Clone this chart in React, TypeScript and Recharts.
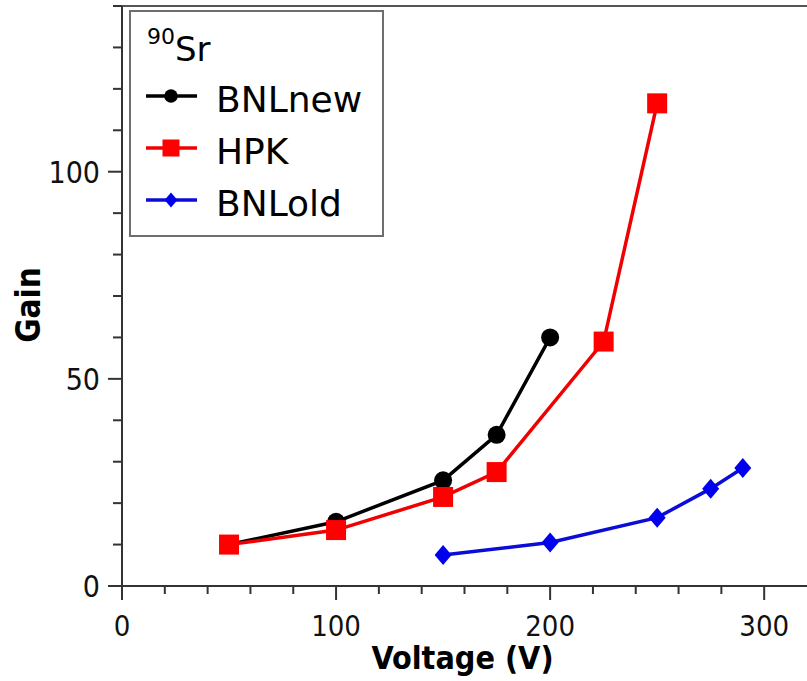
import React from 'react';
import { LineChart, Line, XAxis, YAxis, ReferenceLine, Legend } from 'recharts';

// ---- data ----
const bnlNewVoltage = [50, 100, 150, 175, 200];
const bnlNewGain = [10, 15.5, 25.5, 36.5, 60];
const hpkVoltage = [50, 100, 150, 175, 225, 250];
const hpkGain = [10, 13.5, 21.5, 27.5, 59, 116.5];
const bnlOldVoltage = [150, 200, 250, 275, 290];
const bnlOldGain = [7.5, 10.5, 16.5, 23.5, 28.5];

const seriesNames = ['BNLnew', 'HPK', 'BNLold'];
const legendTitleSup = '90';
const legendTitle = 'Sr';

const xTicks = [0, 20, 40, 60, 80, 100, 120, 140, 160, 180, 200, 220, 240, 260, 280, 300];
const xMajorTicks = [0, 100, 200, 300];
const yTicks = [0, 10, 20, 30, 40, 50, 60, 70, 80, 90, 100, 110, 120, 130, 140];
const yMajorTicks = [0, 50, 100];
const xLabel = 'Voltage (V)';
const yLabel = 'Gain';

const zip = (xs: number[], ys: number[]) => xs.map((v, i) => ({ v, g: ys[i] }));
const bnlNewData = zip(bnlNewVoltage, bnlNewGain);
const hpkData = zip(hpkVoltage, hpkGain);
const bnlOldData = zip(bnlOldVoltage, bnlOldGain);

const AXIS = '#333333';
const BLACK = '#000000';
const RED = '#f00000';
const BLUE = '#0c0cd8';
const COND = "'DejaVu Sans Condensed', 'DejaVu Sans', sans-serif";
const SANS = "'DejaVu Sans', sans-serif";

const colors = [BLACK, RED, BLUE];

const Marker = ({ kind, cx, cy, s = 1 }: { kind: number; cx: number; cy: number; s?: number }) => {
  if (kind === 0) return <circle cx={cx} cy={cy} r={9 * s} fill={BLACK} />;
  if (kind === 1) {
    const h = 10 * s;
    return <rect x={cx - h} y={cy - h} width={2 * h} height={2 * h} fill="#ff0000" />;
  }
  const w = 8.5 * s;
  const h = 10 * s;
  return (
    <polygon
      points={`${cx},${cy - h} ${cx + w},${cy} ${cx},${cy + h} ${cx - w},${cy}`}
      fill="#0000ee"
    />
  );
};

const makeDot = (kind: number) => (p: any) => {
  if (p.cx == null || p.cy == null) return <g key={`d${kind}-${p.index}`} />;
  return (
    <g key={`d${kind}-${p.index}`}>
      <Marker kind={kind} cx={p.cx} cy={p.cy} />
    </g>
  );
};

const XTick = (props: any) => {
  const { x, y, payload } = props;
  const v = payload.value;
  const major = xMajorTicks.includes(v);
  return (
    <g>
      <line x1={x} x2={x} y1={y} y2={y + (major ? 14 : 8)} stroke={AXIS} strokeWidth={2} />
      {major && (
        <text x={x} y={y + 50} textAnchor="middle" fontFamily={COND} fontSize={29} fill="#111" style={{ fontStretch: 'condensed' }}>
          {v}
        </text>
      )}
    </g>
  );
};

const YTick = (props: any) => {
  const { x, y, payload } = props;
  const v = payload.value;
  const major = yMajorTicks.includes(v);
  return (
    <g>
      <line x1={x} x2={x - (major ? 14 : 9)} y1={y} y2={y} stroke={AXIS} strokeWidth={2} />
      {major && (
        <text x={x - 22} y={y + 11} textAnchor="end" fontFamily={COND} fontSize={30} fill="#111" style={{ fontStretch: 'condensed' }}>
          {v}
        </text>
      )}
    </g>
  );
};

const LegendBox = () => {
  const rows = [86, 138, 190];
  return (
    <svg width={256} height={228} style={{ display: 'block' }}>
      <rect x={1} y={1} width={253} height={225} fill="#fff" stroke="#6e6e6e" strokeWidth={2} />
      <text x={18} y={34} fontFamily={SANS} fontSize={22} fill="#000">{legendTitleSup}</text>
      <text x={46} y={51} fontFamily={SANS} fontSize={34} fill="#000">{legendTitle}</text>
      {seriesNames.map((n, i) => (
        <g key={n}>
          <line x1={17} x2={68} y1={rows[i]} y2={rows[i]} stroke={colors[i]} strokeWidth={3.5} />
          <Marker kind={i} cx={42} cy={rows[i]} s={i === 1 ? 0.85 : 0.75} />
          <text x={87} y={rows[i] + 16} fontFamily={SANS} fontSize={36} fill="#000">{n}</text>
        </g>
      ))}
    </svg>
  );
};

export default function App() {
  return (
    <div style={{ position: 'absolute', left: 0, top: 0, width: 807, height: 681, background: '#fff' }}>
      <LineChart width={807} height={681} margin={{ top: 6, right: 0, bottom: 0, left: 0 }}>
        <XAxis
          dataKey="v"
          type="number"
          domain={[0, 320]}
          ticks={xTicks}
          interval={0}
          tickSize={0}
          tickMargin={0}
          tickLine={false}
          tick={<XTick />}
          height={95}
          axisLine={{ stroke: AXIS, strokeWidth: 2 }}
          allowDataOverflow
          label={{
            content: (p: any) => {
              const vb = p.viewBox || { x: 122, y: 586, width: 685, height: 95 };
              return (
                <text x={vb.x + vb.width / 2 - 2} y={vb.y + 83} textAnchor="middle" fontFamily={COND} fontWeight="bold" fontSize={32} fill="#000" style={{ fontStretch: 'condensed' }}>
                  {xLabel}
                </text>
              );
            },
          }}
        />
        <YAxis
          type="number"
          domain={[0, 140]}
          ticks={yTicks}
          interval={0}
          tickSize={0}
          tickMargin={0}
          tickLine={false}
          tick={<YTick />}
          width={122}
          axisLine={{ stroke: AXIS, strokeWidth: 2 }}
          allowDataOverflow
          label={{
            content: (p: any) => {
              const vb = p.viewBox || { x: 0, y: 6, width: 122, height: 580 };
              const cx = vb.x + 40;
              const cy = vb.y + vb.height / 2 + 9;
              return (
                <text x={cx} y={cy} transform={`rotate(-90 ${cx} ${cy})`} textAnchor="middle" fontFamily={COND} fontWeight="bold" fontSize={33} fill="#000" style={{ fontStretch: 'condensed' }}>
                  {yLabel}
                </text>
              );
            },
          }}
        />
        <ReferenceLine y={140} stroke="#555" strokeWidth={2} />
        <Line data={bnlNewData} dataKey="g" stroke={BLACK} strokeWidth={3.5} dot={makeDot(0)} activeDot={false} isAnimationActive={false} />
        <Line data={hpkData} dataKey="g" stroke={RED} strokeWidth={3.5} dot={makeDot(1)} activeDot={false} isAnimationActive={false} />
        <Line data={bnlOldData} dataKey="g" stroke={BLUE} strokeWidth={3.5} dot={makeDot(2)} activeDot={false} isAnimationActive={false} />
        <Legend
          layout="vertical"
          align="center"
          verticalAlign="middle"
          content={() => <LegendBox />}
          wrapperStyle={{ position: 'absolute', left: 129, top: 10, width: 256, height: 228 }}
        />
      </LineChart>
    </div>
  );
}
